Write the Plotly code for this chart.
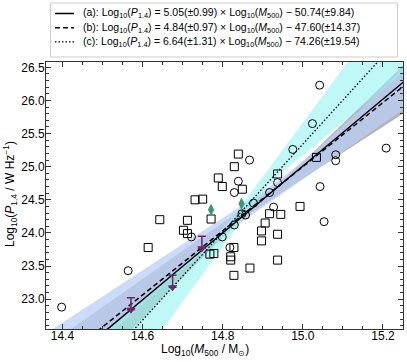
import numpy as np
import plotly.graph_objects as go

# ---- fit results ----
fit_labels = ["(a)", "(b)", "(c)"]
slopes = [5.05, 4.84, 6.64]
slope_errs = [0.99, 0.97, 1.31]
intercepts = [-50.74, -47.60, -74.26]
intercept_errs = [9.84, 14.37, 19.54]
fit_dash = ["solid", "5px,3px", "1.5px,2px"]

# ---- confidence band shapes (per fit: pivot/scale for upper and lower edges) ----
band_fit = [0, 1, 2]
band_x0_up = [14.955, 14.98, 14.795]
band_s_up = [0.85, 0.93, 1.54]
band_x0_lo = [14.84, 14.764, 14.918]
band_s_lo = [1.15, 0.70, 1.74]
band_s0 = [0.05, 0.08, 0.06]
band_colors = ["rgba(128,128,128,0.6)", "rgba(186,207,247,0.75)", "rgba(150,243,243,0.6)"]

# ---- data points ----
sq_x = [14.731, 14.750, 14.839, 14.829, 15.034, 14.789, 14.799, 14.849, 14.937, 14.993,
        14.771, 14.917, 14.945, 14.906, 14.897, 14.937, 14.897, 14.937, 14.828, 14.820,
        14.820, 14.828, 14.868, 14.778, 14.768, 14.643, 14.712, 14.702, 14.712, 14.614]
sq_y = [24.50, 24.51, 25.19, 25.00, 25.14, 24.83, 24.70, 24.66, 24.89, 24.40,
        24.21, 24.29, 24.28, 24.15, 24.03, 23.98, 23.88, 23.59, 23.78, 23.64,
        23.59, 23.36, 23.47, 23.69, 23.68, 24.20, 24.19, 24.04, 23.99, 23.78]
ci_x = [15.042, 15.024, 14.975, 14.867, 15.082, 15.082, 15.208, 14.839, 14.829, 14.937,
        15.043, 14.917, 14.877, 14.927, 14.848, 14.857, 14.829, 14.799, 14.818, 15.053,
        14.722, 14.564, 14.398]
ci_y = [26.23, 25.65, 25.26, 25.10, 25.18, 25.09, 25.28, 24.78, 24.61, 24.76,
        24.70, 24.61, 24.45, 24.39, 24.29, 24.27, 24.12, 23.94, 23.78, 24.17,
        23.94, 23.43, 22.88]
dm_x = [14.771, 14.847]
dm_y = [24.35, 24.44]
ul_x = [14.571, 14.675, 14.748]
ul_y = [23.02, 23.36, 23.95]
ul_arrow = 0.18

xr = [14.359, 15.25]
yr = [22.55, 26.58]

W, H = 407, 362
ML, MR, MT, MB = 46, 4, 62, 33
PW, PH = W - ML - MR, H - MT - MB


def px2paper(px, py):
    return (px - ML) / PW, (H - MB - py) / PH


fig = go.Figure()
xg = np.linspace(14.3, 15.3, 401)

for i in range(3):
    k = band_fit[i]
    yc = slopes[k] * xg + intercepts[k]
    up = yc + np.sqrt(band_s0[i] ** 2 + (band_s_up[i] * (xg - band_x0_up[i])) ** 2)
    lo = yc - np.sqrt(band_s0[i] ** 2 + (band_s_lo[i] * (xg - band_x0_lo[i])) ** 2)
    fig.add_trace(go.Scatter(x=np.concatenate([xg, xg[::-1]]), y=np.concatenate([up, lo[::-1]]),
                             fill="toself", fillcolor=band_colors[i], line=dict(width=0),
                             mode="lines", showlegend=False, hoverinfo="skip"))

for k in range(3):
    yc = slopes[k] * xg + intercepts[k]
    fig.add_trace(go.Scatter(x=xg, y=yc, mode="lines", showlegend=False, hoverinfo="skip",
                             line=dict(color="black", width=1.5 if k < 2 else 1.3, dash=fit_dash[k])))

fig.add_trace(go.Scatter(x=sq_x, y=sq_y, mode="markers", showlegend=False,
                         marker=dict(symbol="square-open", size=8, color="black", line=dict(width=1))))
fig.add_trace(go.Scatter(x=ci_x, y=ci_y, mode="markers", showlegend=False,
                         marker=dict(symbol="circle-open", size=8, color="black", line=dict(width=1))))
fig.add_trace(go.Scatter(x=dm_x, y=dm_y, mode="markers", showlegend=False,
                         marker=dict(symbol="diamond-tall", size=9, color="#3a9a78")))
fig.add_trace(go.Scatter(x=ul_x, y=[v - ul_arrow for v in ul_y], mode="markers", showlegend=False,
                         marker=dict(symbol="triangle-down", size=8, color="#6b2566"),
                         error_y=dict(type="constant", symmetric=False, value=ul_arrow, valueminus=0,
                                      color="#6b2566", thickness=1.5, width=4)))

# ---- manual legend ----
shapes = []
annotations = []
x0, y0 = px2paper(50.5, 3)
x1, y1 = px2paper(397.5, 57)
shapes.append(dict(type="rect", xref="paper", yref="paper", x0=x0, y0=y1, x1=x1, y1=y0,
                   line=dict(color="#cccccc", width=1), fillcolor="white", layer="above"))
for k in range(3):
    rowy = 13.5 + 14.2 * k
    lx0, ly = px2paper(55, rowy)
    lx1, _ = px2paper(74, rowy)
    shapes.append(dict(type="line", xref="paper", yref="paper", x0=lx0, x1=lx1, y0=ly, y1=ly,
                       line=dict(color="black", width=1.5 if k < 2 else 1.3, dash=fit_dash[k]),
                       layer="above"))
    tx, _ = px2paper(81, rowy)
    text = (f"{fit_labels[k]}: Log<sub>10</sub>(<i>P</i><sub>1.4</sub>) = {slopes[k]:.2f}(±{slope_errs[k]:.2f})"
            f" × Log<sub>10</sub>(<i>M</i><sub>500</sub>) − {abs(intercepts[k]):.2f}(±{intercept_errs[k]:.2f})")
    annotations.append(dict(xref="paper", yref="paper", x=tx, y=ly, xanchor="left", yanchor="middle",
                            text=text, showarrow=False, font=dict(size=10.5, color="black")))

# ---- axis titles ----
tx, ty = px2paper(205, 350)
annotations.append(dict(xref="paper", yref="paper", x=tx, y=ty, xanchor="center", yanchor="middle",
                        text="Log<sub>10</sub>(<i>M</i><sub>500</sub> / M<sub>⊙</sub>)", showarrow=False,
                        font=dict(size=12, color="black")))
tx, ty = px2paper(10, 194)
annotations.append(dict(xref="paper", yref="paper", x=tx, y=ty, xanchor="center", yanchor="middle",
                        text="Log<sub>10</sub>(<i>P</i><sub>1.4</sub> / W Hz<sup>−1</sup>)", showarrow=False,
                        textangle=-90, font=dict(size=12, color="black")))

axis_common = dict(showline=True, linecolor="#333", linewidth=1, mirror="allticks",
                   ticks="inside", ticklen=5, tickwidth=1, tickcolor="#333", automargin=False,
                   showgrid=False, zeroline=False, tickfont=dict(size=12, color="black"),
                   minor=dict(ticks="inside", ticklen=3, tickwidth=0.8, tickcolor="#333"))
fig.update_xaxes(range=xr, dtick=0.2, tick0=14.4, minor_dtick=0.05, tickformat=".1f",
                 ticklabelstandoff=-4, **axis_common)
fig.update_yaxes(range=yr, dtick=0.5, tick0=23.0, minor_dtick=0.1, tickformat=".1f",
                 ticklabelstandoff=-2, **axis_common)

fig.update_layout(width=W, height=H, margin=dict(l=ML, r=MR, t=MT, b=MB, autoexpand=False),
                  plot_bgcolor="white", paper_bgcolor="white", showlegend=False,
                  font=dict(family="Liberation Sans, Arial, sans-serif", color="black"),
                  shapes=shapes, annotations=annotations)
fig.write_html("out.html", config={"displayModeBar": False},
               post_script="document.body.style.margin='0';document.body.style.overflow='hidden';")
